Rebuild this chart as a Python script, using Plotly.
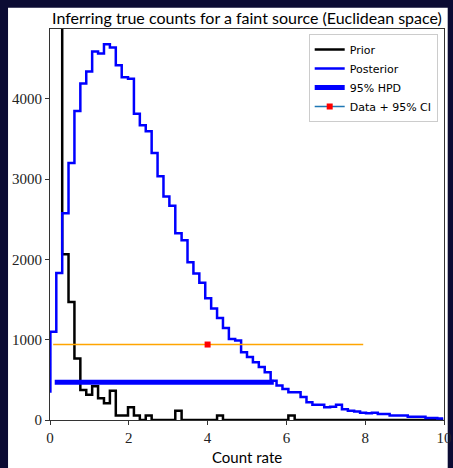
import plotly.graph_objects as go

# ---- data ----
bin_edges = [0.01, 0.16, 0.31, 0.47, 0.62, 0.77, 0.92, 1.07, 1.22, 1.37,
             1.52, 1.67, 1.82, 1.98, 2.13, 2.28, 2.43, 2.58, 2.73, 2.88,
             3.03, 3.18, 3.34, 3.49, 3.64, 3.79, 3.94, 4.09, 4.24, 4.39,
             4.54, 4.70, 4.85, 5.00, 5.15, 5.30, 5.45, 5.60, 5.75, 5.90,
             6.05, 6.21, 6.36, 6.51, 6.66, 6.81, 6.96, 7.11, 7.26, 7.41,
             7.56, 7.72, 7.87, 8.02, 8.17, 8.32, 8.47, 8.62, 8.77, 8.93,
             9.08, 9.23, 9.38, 9.53, 9.68, 9.83, 9.98]

posterior_counts = [340, 1100, 1830, 2575, 3200, 3850, 4190, 4340, 4590, 4565,
                    4680, 4640, 4420, 4270, 4250, 3815, 3670, 3595, 3325, 3035,
                    2785, 2670, 2325, 2240, 1965, 1825, 1710, 1515, 1390, 1270,
                    1145, 1010, 990, 845, 785, 720, 660, 595, 490, 430,
                    385, 345, 345, 285, 220, 190, 190, 160, 165, 190,
                    135, 115, 105, 90, 85, 90, 75, 75, 55, 55,
                    55, 40, 40, 40, 25, 25, 20]

prior_edges = bin_edges[2:]
prior_counts = [6000, 2065, 1470, 765, 375, 315, 420, 270, 210, 365,
                55, 55, 160, 55, 0, 55, 0, 0, 0, 0,
                115, 0, 0, 0, 0, 0, 0, 55, 0, 0,
                0, 0, 0, 0, 0, 0, 0, 0, 0, 55,
                0, 0, 0, 0, 0, 0, 0, 0, 0, 0,
                0, 0, 0, 0, 0, 0, 0, 0, 0, 0,
                0, 0, 0, 0, 0]

hpd_interval = [0.12, 5.68]
hpd_level = 470

data_value = 4.0
data_level = 940
data_ci = [0.08, 7.95]

x_ticks = [0, 2, 4, 6, 8, 10]
y_ticks = [0, 1000, 2000, 3000, 4000]

BG = "#0b0b33"
SANS = "Lato, 'DejaVu Sans', sans-serif"
LEG = "'DejaVu Sans', sans-serif"
SERIF = "'Liberation Serif', 'DejaVu Serif', serif"

fig = go.Figure()

fig.add_trace(go.Scatter(
    x=prior_edges, y=prior_counts, mode="lines", line_shape="vh",
    line=dict(color="black", width=2.5), name="Prior"))

fig.add_trace(go.Scatter(
    x=bin_edges, y=posterior_counts, mode="lines", line_shape="vh",
    line=dict(color="#0000ff", width=2.5), name="Posterior"))

fig.add_trace(go.Scatter(
    x=hpd_interval, y=[hpd_level, hpd_level], mode="lines",
    line=dict(color="#0000ff", width=5), name="95% HPD"))

# error bar (orange) + data point (red)
fig.add_trace(go.Scatter(
    x=data_ci, y=[data_level, data_level], mode="lines",
    line=dict(color="#ffa500", width=1.5), showlegend=False, hoverinfo="skip"))
fig.add_trace(go.Scatter(
    x=[data_value], y=[data_level], mode="markers",
    marker=dict(color="#ff0000", symbol="square", size=6), showlegend=False))
# legend entry matching the reference legend style
fig.add_trace(go.Scatter(
    x=[None], y=[None], mode="lines+markers",
    line=dict(color="#1f77b4", width=1.5),
    marker=dict(color="#ff0000", symbol="square", size=6),
    name="Data + 95% CI"))

# white figure panel on dark background
fig.add_shape(type="rect", xref="paper", yref="paper",
              x0=-0.1065, x1=1.0094, y0=-0.13, y1=1.0545,
              fillcolor="white", line=dict(width=0), layer="below")

fig.update_layout(
    width=453, height=468,
    margin=dict(l=50, r=9, t=29, b=48),
    paper_bgcolor=BG, plot_bgcolor="white",
    title=dict(text="Inferring true counts for a faint source (Euclidean space)",
               x=0.5, xref="paper", xanchor="center",
               y=1 - 18 / 468, yref="container", yanchor="middle",
               font=dict(family=SANS, size=16, color="black")),
    legend=dict(x=0.984, y=0.987, xanchor="right", yanchor="top",
                bgcolor="white", bordercolor="#cccccc", borderwidth=1,
                font=dict(family=LEG, size=11, color="black"),
                itemwidth=30, tracegroupgap=0),
    showlegend=True,
)

fig.update_xaxes(range=[0, 10], tickvals=x_ticks, ticktext=[str(v) for v in x_ticks],
                 showgrid=False, zeroline=False, showline=True, mirror=True,
                 linecolor="#333", linewidth=1, ticks="outside", ticklen=4,
                 tickcolor="#333", automargin=False,
                 tickfont=dict(family=SERIF, size=15, color="#222"))
fig.update_yaxes(range=[0, 4870], tickvals=y_ticks, ticktext=[str(v) for v in y_ticks],
                 showgrid=False, zeroline=False, showline=True, mirror=True,
                 linecolor="#333", linewidth=1, ticks="outside", ticklen=4,
                 tickcolor="#333", automargin=False,
                 tickfont=dict(family=SERIF, size=15, color="#222"))

fig.add_annotation(text="Count rate", xref="paper", yref="paper",
                   x=0.5, y=-0.094, xanchor="center", yanchor="middle",
                   showarrow=False, font=dict(family=SANS, size=15, color="black"))

fig.write_html("out.html",
               config={"displayModeBar": False},
               post_script="document.body.style.margin='0';"
                           "document.body.style.background='" + BG + "';")
